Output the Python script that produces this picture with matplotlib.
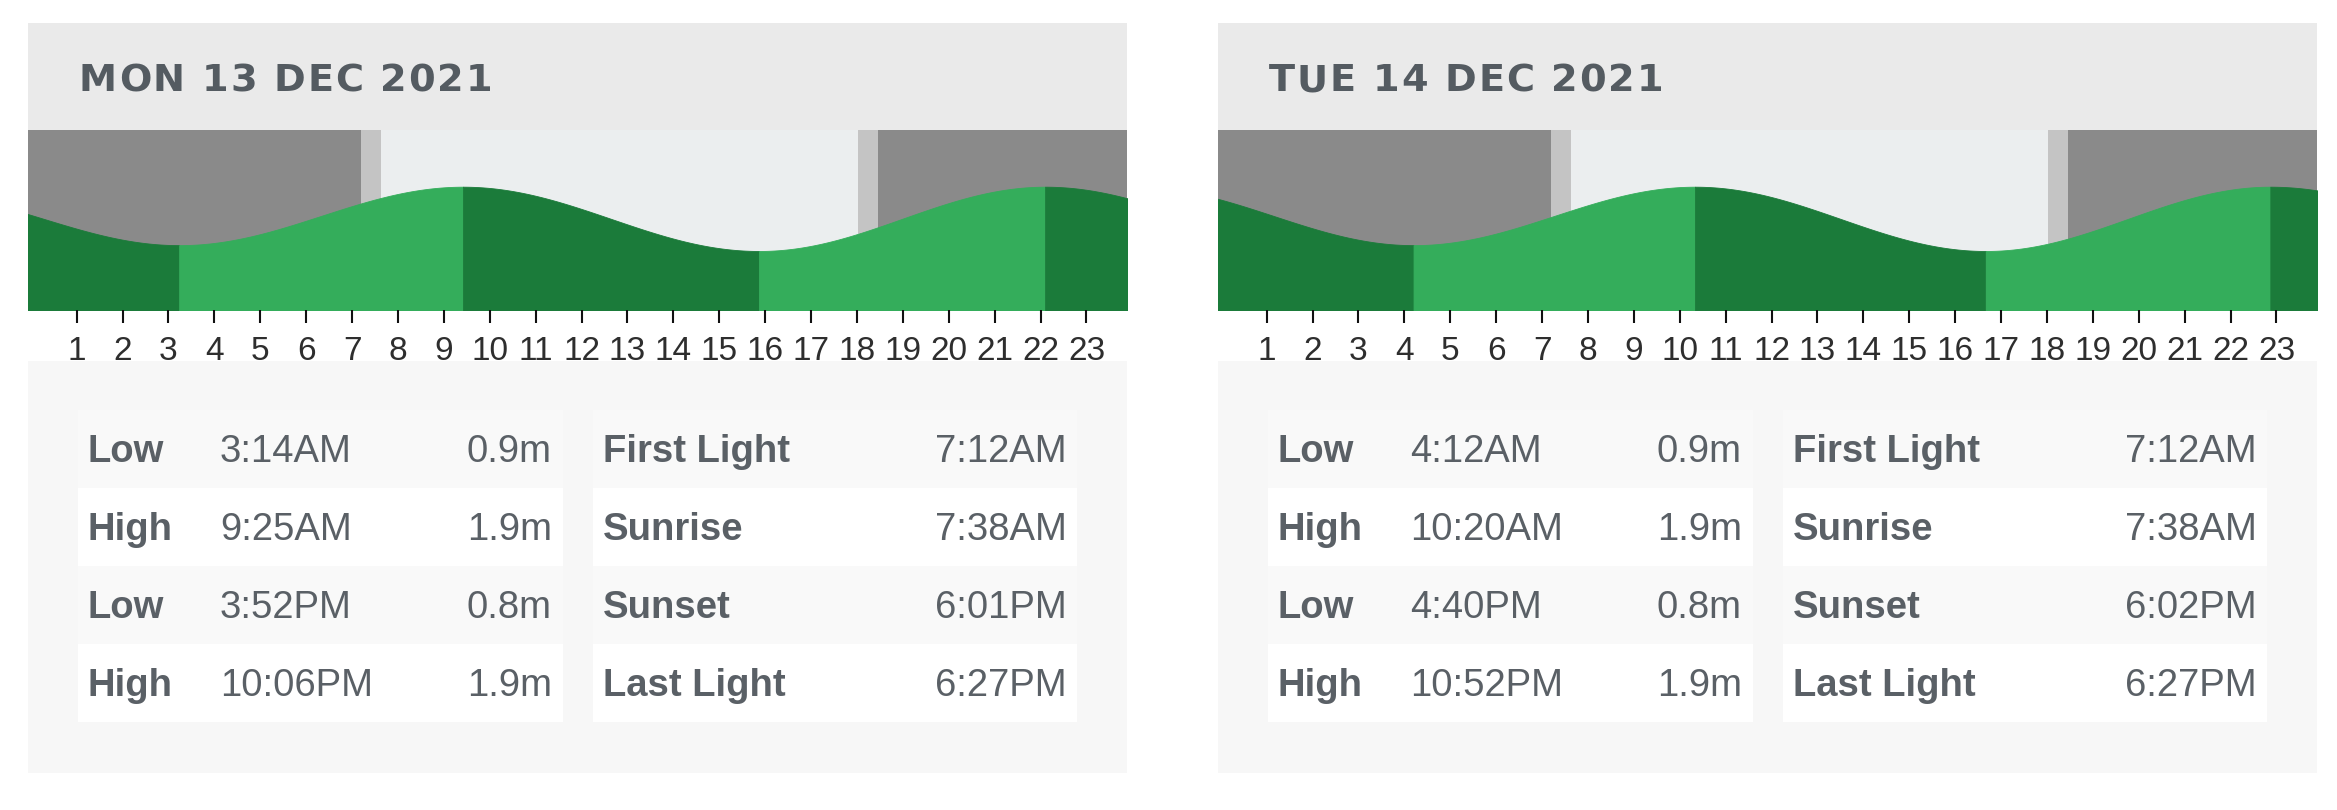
import matplotlib.pyplot as plt
import numpy as np
from matplotlib.patches import Rectangle

# ---- data ----
day_titles = ["MON 13 DEC 2021", "TUE 14 DEC 2021"]

tide_kinds = ["Low", "High", "Low", "High"]
tide_times = [["3:14AM", "9:25AM", "3:52PM", "10:06PM"],
              ["4:12AM", "10:20AM", "4:40PM", "10:52PM"]]
tide_heights = [[0.9, 1.9, 0.8, 1.9],
                [0.9, 1.9, 0.8, 1.9]]

# tides just outside each day (hours relative to that day's midnight), so the curve runs to the edges
prev_tide = [(-2.67, 1.8), (-1.9, 1.9)]   # Sun 9:20PM (estimated), Mon 10:06PM
next_tide = [(28.2, 0.9), (29.17, 0.9)]   # Tue 4:12AM, Wed ~5:10AM (estimated)

sun_labels = ["First Light", "Sunrise", "Sunset", "Last Light"]
sun_times = [["7:12AM", "7:38AM", "6:01PM", "6:27PM"],
             ["7:12AM", "7:38AM", "6:02PM", "6:27PM"]]

hour_ticks = list(range(1, 24))

# ---- colours ----
NIGHT = "#8a8a8a"
TWILIGHT = "#c4c4c4"
DAY = "#ebeeef"
FALLING = "#1b7b3a"
RISING = "#34ad5b"
HEADER_BG = "#eaeaea"
TABLE_BG = "#f7f7f7"
ROW_ODD = "#f9f9f9"
TEXT = "#5a6066"


def to_hours(s):
    hm, ampm = s[:-2], s[-2:]
    h, m = hm.split(":")
    h = int(h) % 12
    if ampm == "PM":
        h += 12
    return h + int(m) / 60.0


W, H = 2337, 810
fig = plt.figure(figsize=(W / 100, H / 100), dpi=100)
fig.patch.set_facecolor("white")
bg = fig.add_axes([0, 0, 1, 1])
bg.set_xlim(0, W)
bg.set_ylim(H, 0)
bg.axis("off")
renderer = fig.canvas.get_renderer()


def spaced_text(x, y, s, spacing, **kw):
    # header text has wide letter spacing, so place it one char at a time
    for ch in s:
        if ch == " ":
            x += kw["fontsize"] * 0.48 + spacing
            continue
        t = bg.text(x, y, ch, **kw)
        x += t.get_window_extent(renderer).width + spacing


panel_x = [28, 1218]
panel_w = 1099
row_tops = [410, 488, 566, 644]
row_h = 78

for d in range(2):
    x0 = panel_x[d]

    # header
    bg.add_patch(Rectangle((x0, 23), panel_w, 107, color=HEADER_BG, lw=0))
    spaced_text(x0 + 51, 91, day_titles[d], 1.8, fontsize=27.5, fontweight="bold",
                color="#545b61", family="DejaVu Sans", va="baseline")

    # table
    bg.add_patch(Rectangle((x0, 361), panel_w, 412, color=TABLE_BG, lw=0, zorder=3))
    for i in range(4):
        col = ROW_ODD if i % 2 == 0 else "white"
        top = row_tops[i]
        bg.add_patch(Rectangle((x0 + 50, top), 485, row_h, color=col, lw=0, zorder=3))
        bg.add_patch(Rectangle((x0 + 565, top), 484, row_h, color=col, lw=0, zorder=3))
        base = top + row_h / 2 + 13.5
        font = dict(fontsize=27.5, color=TEXT, family="Liberation Sans", va="baseline", zorder=4)
        bg.text(x0 + 60, base, tide_kinds[i], fontweight="bold", **font)
        bg.text(x0 + 192, base, tide_times[d][i], **font)
        bg.text(x0 + 524, base, f"{tide_heights[d][i]:.1f}m", ha="right", **font)
        bg.text(x0 + 575, base, sun_labels[i], fontweight="bold", **font)
        bg.text(x0 + 1039, base, sun_times[d][i], ha="right", **font)

    # tide chart
    ax = fig.add_axes([x0 / W, 1 - 310 / H, panel_w / W, 180 / H])
    ax.set_xlim(-0.06, -0.06 + panel_w / 45.9)
    ax.set_ylim(-0.21, 2.87)
    ax.patch.set_alpha(0)
    for s in ax.spines.values():
        s.set_visible(False)

    fl, sr, ss, ll = [to_hours(t) for t in sun_times[d]]
    ax.axvspan(-1, fl, color=NIGHT, lw=0)
    ax.axvspan(fl, sr, color=TWILIGHT, lw=0)
    ax.axvspan(sr, ss, color=DAY, lw=0)
    ax.axvspan(ss, ll, color=TWILIGHT, lw=0)
    ax.axvspan(ll, 25, color=NIGHT, lw=0)

    ext = [prev_tide[d]] + [(to_hours(t), h) for t, h in zip(tide_times[d], tide_heights[d])] + [next_tide[d]]
    for (t0, h0), (t1, h1) in zip(ext[:-1], ext[1:]):
        t = np.linspace(t0, t1, 200)
        h = h0 + (h1 - h0) * (1 - np.cos(np.pi * (t - t0) / (t1 - t0))) / 2
        c = FALLING if h1 < h0 else RISING
        ax.fill_between(t, -1, h, color=c, lw=0.6, edgecolor=c)

    ax.set_yticks([])
    ax.set_xticks(hour_ticks)
    ax.set_xticklabels([str(h) for h in hour_ticks],
                       family=["Liberation Sans Narrow", "Liberation Sans"])
    ax.tick_params(axis="x", length=9.4, width=1.5, color="#111111", pad=9,
                   labelsize=24, labelcolor="#2e2e2e")

fig.savefig("out.png", dpi=100, facecolor="white")
